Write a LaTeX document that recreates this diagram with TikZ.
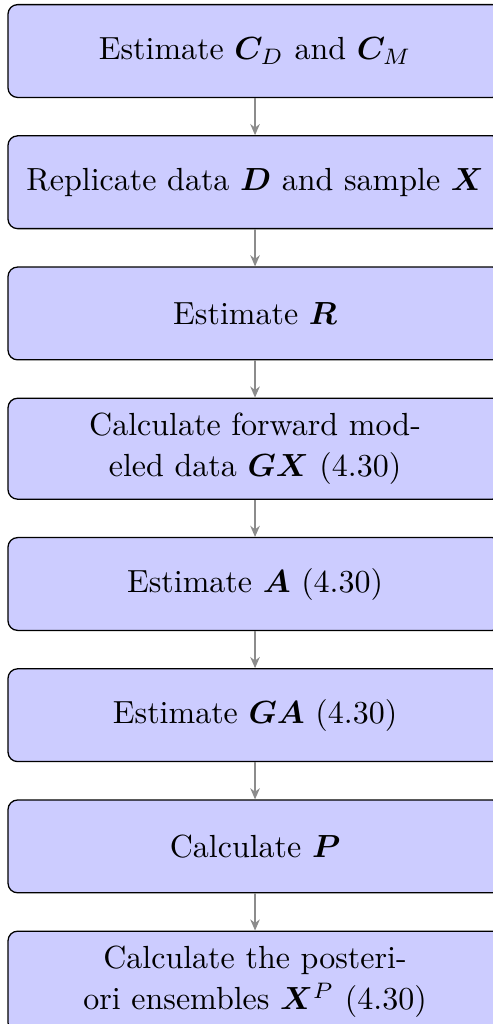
\documentclass[tikz,border=0pt]{standalone}
\usepackage{amsmath}
\usepackage{bm}
\usetikzlibrary{positioning,arrows.meta}
\tikzset{
  flowbox/.style={draw=black, line width=0.4pt, fill=blue!20, rounded corners=3pt,
    text width=145pt, align=center, inner xsep=4.7pt, inner ysep=4.5pt,
    minimum height=29pt, font=\fontsize{10}{13}\selectfont},
  flowarrow/.style={draw=black!45, line width=0.4pt, -{Stealth[length=3.5pt,width=3pt]}}
}
\begin{document}
\begin{tikzpicture}[node distance=11.6pt]
\path[use as bounding box, clip] (0,0) rectangle (154.06pt,-320pt);
\node[flowbox, anchor=north] (n1) at (79.7pt,-1.25pt) {Estimate $\bm{C}_D$ and $\bm{C}_M$};
\node[flowbox, below=of n1] (n2) {Replicate data $\bm{D}$ and sample $\bm{X}$};
\node[flowbox, below=of n2] (n3) {Estimate $\bm{R}$};
\node[flowbox, below=of n3] (n4) {Calculate forward modeled data $\bm{G}\bm{X}$ (4.30)};
\node[flowbox, below=of n4] (n5) {Estimate $\bm{A}$ (4.30)};
\node[flowbox, below=of n5] (n6) {Estimate $\bm{G}\bm{A}$ (4.30)};
\node[flowbox, below=of n6] (n7) {Calculate $\bm{P}$};
\node[flowbox, below=of n7] (n8) {Calculate the posteriori ensembles $\bm{X}^P$ (4.30)};
\draw[flowarrow] (n1) -- (n2);
\draw[flowarrow] (n2) -- (n3);
\draw[flowarrow] (n3) -- (n4);
\draw[flowarrow] (n4) -- (n5);
\draw[flowarrow] (n5) -- (n6);
\draw[flowarrow] (n6) -- (n7);
\draw[flowarrow] (n7) -- (n8);
\end{tikzpicture}
\end{document}
